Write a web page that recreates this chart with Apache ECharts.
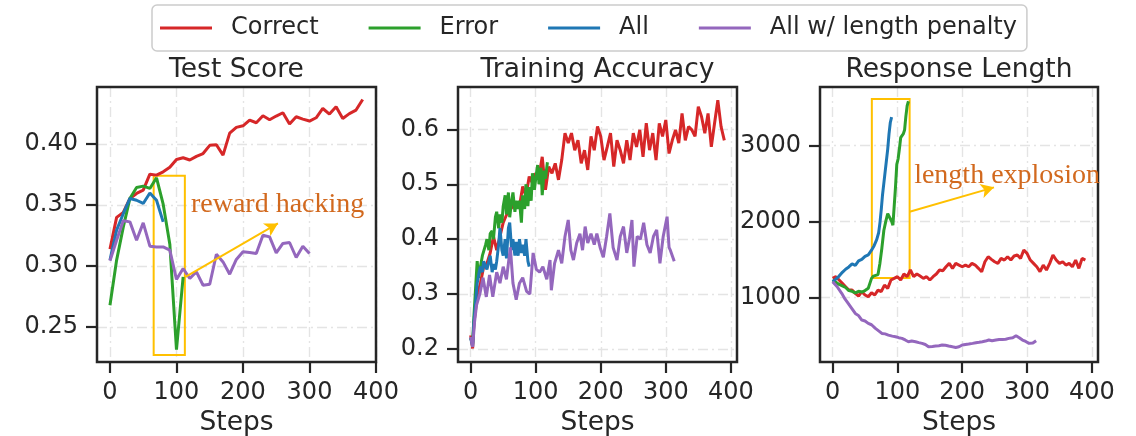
<!DOCTYPE html>
<html>
<head>
<meta charset="utf-8">
<script src="https://cdn.jsdelivr.net/npm/echarts@6/dist/echarts.min.js"></script>
<style>html,body{margin:0;padding:0;background:#fff}#c{width:1136px;height:436px}</style>
</head>
<body>
<div id="c"></div>
<script>
// ---------- data ----------
const seriesNames = ['Correct', 'Error', 'All', 'All w/ length penalty'];
const panelTitles = ['Test Score', 'Training Accuracy', 'Response Length'];
const xTicks = [0, 100, 200, 300, 400];
const testTicks = [0.25, 0.30, 0.35, 0.40];
const accTicks = [0.2, 0.3, 0.4, 0.5, 0.6];
const lenTicks = [1000, 2000, 3000];

// Test Score
const testCorrectSteps = [0,10,20,30,40,50,60,70,80,90,100,110,120,130,140,150,160,170,180,190,200,210,220,230,240,250,260,270,280,290,300,310,320,330,340,350,360,370,380];
const testCorrect = [0.314,0.340,0.344,0.3555,0.3596,0.3623,0.3754,0.3746,0.3773,0.381,0.3874,0.3888,0.387,0.390,0.3923,0.399,0.3995,0.391,0.409,0.4137,0.415,0.4197,0.4175,0.4232,0.420,0.423,0.4257,0.4164,0.4224,0.4205,0.4189,0.4216,0.4292,0.4246,0.4306,0.421,0.425,0.4279,0.4366];
const testErrorSteps = [0,10,20,30,40,50,60,70,80,90,100,110];
const testError = [0.268,0.305,0.332,0.3555,0.3645,0.3656,0.3637,0.3724,0.3508,0.318,0.2317,0.2913];
const testAllSteps = [0,10,20,30,40,50,60,70,80];
const testAll = [0.305,0.3295,0.343,0.3555,0.354,0.3514,0.360,0.354,0.3363];
const testPenaltySteps = [0,10,20,30,40,50,60,70,80,90,100,110,120,130,140,150,160,170,180,190,200,210,220,230,240,250,260,270,280,290,300];
const testPenalty = [0.3044,0.3213,0.3372,0.3363,0.3213,0.3355,0.3164,0.3158,0.3158,0.3131,0.2891,0.2981,0.2899,0.2954,0.2844,0.2852,0.3098,0.3035,0.2934,0.3055,0.3118,0.3112,0.3104,0.3254,0.324,0.3109,0.3186,0.3194,0.3071,0.3164,0.3104];

// Training Accuracy
const accCorrectSteps = [0,3,5,10,15,20,25,30,35,40,45,50,55,60,65,70,75,80,85,90,95,100,105,110,115,120,125,130,135,140,145,150,155,160,165,170,175,180,185,190,195,200,205,210,215,220,225,230,235,240,245,250,255,260,265,270,275,280,285,290,295,300,305,310,315,320,325,330,335,340,345,350,355,360,365,370,375,380,385,390];
const accCorrect = [0.225,0.201,0.247,0.296,0.32,0.35,0.356,0.375,0.405,0.38,0.405,0.43,0.444,0.453,0.46,0.466,0.46,0.496,0.478,0.514,0.502,0.52,0.514,0.55,0.49,0.532,0.52,0.538,0.508,0.544,0.593,0.575,0.593,0.562,0.58,0.538,0.562,0.526,0.587,0.562,0.605,0.587,0.544,0.568,0.593,0.532,0.58,0.562,0.538,0.58,0.544,0.593,0.568,0.599,0.55,0.611,0.562,0.593,0.544,0.611,0.587,0.617,0.556,0.58,0.599,0.575,0.629,0.58,0.605,0.599,0.587,0.641,0.623,0.593,0.629,0.568,0.611,0.653,0.605,0.58];
const accErrorSteps = [0,3,5,8,10,12,15,18,20,23,25,28,30,33,35,38,40,43,45,48,50,53,55,58,60,63,65,68,70,73,75,78,80,83,85,88,90,93,95,98,100,103,105,108,110,113,115,118];
const accError = [0.22,0.21,0.26,0.32,0.36,0.33,0.35,0.37,0.37,0.39,0.40,0.38,0.41,0.415,0.40,0.44,0.45,0.42,0.445,0.43,0.46,0.48,0.445,0.485,0.44,0.47,0.485,0.45,0.47,0.455,0.47,0.43,0.48,0.455,0.50,0.46,0.495,0.47,0.52,0.49,0.51,0.535,0.50,0.53,0.48,0.525,0.51,0.54];
const accAllSteps = [0,3,5,8,10,13,15,18,20,23,25,28,30,33,35,38,40,43,45,48,50,53,55,58,60,63,65,68,70,73,75,78,80,83,85,88,90];
const accAll = [0.22,0.205,0.25,0.29,0.32,0.34,0.35,0.34,0.36,0.35,0.345,0.36,0.37,0.34,0.355,0.345,0.36,0.39,0.42,0.38,0.37,0.40,0.365,0.42,0.43,0.38,0.40,0.37,0.395,0.37,0.40,0.375,0.39,0.37,0.40,0.36,0.35];
const accPenaltySteps = [0,3,6,9,14,19,24,29,34,40,45,50,55,61,65,70,75,80,86,91,96,101,106,111,117,122,124,129,135,140,145,150,154,158,163,168,172,176,180,185,190,194,199,204,209,214,219,225,230,235,240,244,248,251,256,261,266,271,276,281,286,291,296,302,305,307,310,313];
const accPenalty = [0.222,0.204,0.25,0.28,0.30,0.33,0.295,0.335,0.295,0.34,0.32,0.35,0.327,0.385,0.32,0.29,0.32,0.33,0.305,0.30,0.375,0.345,0.34,0.35,0.327,0.362,0.307,0.356,0.38,0.356,0.405,0.435,0.38,0.362,0.393,0.41,0.38,0.423,0.393,0.41,0.39,0.41,0.385,0.367,0.405,0.447,0.385,0.362,0.405,0.423,0.375,0.40,0.435,0.35,0.405,0.40,0.43,0.39,0.375,0.405,0.417,0.356,0.405,0.441,0.385,0.38,0.38,0.36];

// Response Length
const lenCorrectSteps = [0,5,10,15,20,25,30,35,40,45,50,55,60,65,70,75,80,85,90,95,100,105,110,115,120,125,130,135,140,145,150,155,160,165,170,175,180,185,190,195,200,205,210,215,220,225,230,235,240,245,250,255,260,265,270,275,280,285,290,295,300,305,310,315,320,325,330,335,340,345,350,355,360,365,370,375,380,385,390];
const lenCorrect = [1250,1272,1228,1184,1140,1096,1096,1053,1018,1075,1031,1009,1061,1031,1096,1075,1162,1118,1228,1250,1272,1228,1307,1272,1360,1272,1307,1280,1250,1272,1228,1272,1307,1360,1351,1403,1447,1382,1447,1425,1403,1425,1403,1447,1425,1382,1338,1469,1535,1500,1469,1447,1513,1491,1535,1491,1544,1557,1513,1623,1579,1491,1447,1403,1338,1425,1360,1447,1557,1491,1447,1469,1425,1447,1403,1491,1382,1513,1491];
const lenErrorSteps = [0,5,10,15,20,25,30,35,40,45,50,55,60,63,66,70,73,76,79,82,85,88,91,93,95,97,99,101,103,105,107,109,111,113,115,117];
const lenError = [1230,1200,1170,1150,1130,1090,1080,1060,1080,1070,1090,1120,1250,1280,1270,1300,1450,1650,1880,2000,2100,2050,2000,1950,2200,2450,2750,2820,2950,3100,3080,3150,3200,3380,3520,3580];
const lenAllSteps = [0,5,10,15,20,25,30,35,40,45,50,55,60,64,68,71,73,75,77,79,81,83,85,87,89,91];
const lenAll = [1210,1240,1280,1330,1370,1400,1440,1420,1480,1500,1540,1560,1620,1680,1760,1850,1980,2150,2350,2500,2650,2800,2950,3150,3300,3370];
const lenPenaltySteps = [0,7,14,19,24,30,35,40,45,50,55,60,66,71,76,81,86,92,97,102,107,112,117,122,128,133,138,143,148,154,159,164,169,174,179,185,190,195,200,205,210,216,221,226,231,236,241,246,252,257,262,267,272,278,283,288,293,298,303,309,314];
const lenPenalty = [1206,1140,1053,980,921,850,789,760,702,690,658,640,592,560,526,520,504,490,482,470,461,440,417,425,417,405,395,380,351,355,360,365,373,370,360,350,342,350,373,380,386,395,404,410,417,425,439,430,439,445,447,450,461,470,496,470,439,420,395,400,430];

// annotations (data coordinates)
const hackBox = [[65.7, 0.374], [112.6, 0.2273]];
const hackArrow = [[113.6, 0.2913], [252.5, 0.335]];
const hackText = [121, 0.3508];
const explBox = [[60.5, 3609], [118.8, 1254]];
const explArrow = [[118.8, 2126], [249, 2447]];
const explText = [125, 2605];

// ---------- chart ----------
const colors = ['#d62728', '#2ca02c', '#1f77b4', '#9467bd'];
const ink = '#262626';
const annoColor = '#FFC000';
const textAnno = '#D2691E';
const zip = (xs, ys) => xs.map((x, i) => [x, ys[i]]);

const grids = [
  {left: 97, top: 87, width: 279, height: 275},
  {left: 458, top: 87, width: 279, height: 275},
  {left: 820, top: 87, width: 278, height: 275}
].map(g => Object.assign(g, {show: true, z: 3, outerBoundsMode: 'none', containLabel: false,
  borderColor: ink, borderWidth: 2.5, backgroundColor: 'rgba(0,0,0,0)'}));

const xRanges = [[-19.5, 400], [-19.5, 409.5], [-19.5, 409.5]];
const yRanges = [[0.2215, 0.4468], [0.1765, 0.677], [150, 3767]];
const yTicksAll = [testTicks, accTicks, lenTicks];
const yFmt = [v => v.toFixed(2), v => v.toFixed(1), v => String(v)];

const splitStyle = {show: true, lineStyle: {color: '#e4e4e4', width: 1.4, type: [10, 4, 2, 4]}};
const font = 'DejaVu Sans';

const xAxes = [0, 1, 2].map(i => ({
  type: 'value', gridIndex: i, min: xRanges[i][0], max: xRanges[i][1],
  name: 'Steps', nameLocation: 'middle', nameGap: 48,
  nameTextStyle: {fontSize: 26.5, color: ink, fontFamily: font},
  axisLine: {show: false, onZero: false},
  axisTick: {show: true, customValues: xTicks, length: 11, lineStyle: {color: ink, width: 2.2}},
  axisLabel: {customValues: xTicks, fontSize: 24, color: ink, fontFamily: font, margin: 19},
  splitLine: splitStyle
}));
const yAxes = [0, 1, 2].map(i => ({
  type: 'value', gridIndex: i, min: yRanges[i][0], max: yRanges[i][1],
  axisLine: {show: false, onZero: false},
  axisTick: {show: true, customValues: yTicksAll[i], length: 11, lineStyle: {color: ink, width: 2.2}},
  axisLabel: {customValues: yTicksAll[i], formatter: yFmt[i], fontSize: 24, color: ink, fontFamily: font, margin: 19},
  splitLine: splitStyle
}));

const panelData = [
  [zip(testCorrectSteps, testCorrect), zip(testErrorSteps, testError), zip(testAllSteps, testAll), zip(testPenaltySteps, testPenalty)],
  [zip(accCorrectSteps, accCorrect), zip(accErrorSteps, accError), zip(accAllSteps, accAll), zip(accPenaltySteps, accPenalty)],
  [zip(lenCorrectSteps, lenCorrect), zip(lenErrorSteps, lenError), zip(lenAllSteps, lenAll), zip(lenPenaltySteps, lenPenalty)]
];

function annotations(box, arrow, textPos, text) {
  return {
    markArea: {
      silent: true,
      itemStyle: {color: 'rgba(0,0,0,0)', borderColor: annoColor, borderWidth: 2},
      data: [[{coord: box[0]}, {coord: box[1]}]]
    },
    markLine: {
      silent: true, symbol: ['none', 'arrow'], symbolSize: [11, 13],
      label: {show: false},
      lineStyle: {color: annoColor, width: 2, type: 'solid'},
      data: [[{coord: arrow[0]}, {coord: arrow[1]}]]
    },
    markPoint: {
      silent: true, symbol: 'circle', symbolSize: 1,
      itemStyle: {color: 'rgba(0,0,0,0)'},
      label: {show: true, position: 'right', distance: 0, formatter: text, color: textAnno, fontSize: 28, fontFamily: 'Liberation Serif'},
      data: [{coord: textPos}]
    }
  };
}

const series = [];
for (let p = 0; p < 3; p++) {
  for (let s = 0; s < 4; s++) {
    const ser = {
      name: seriesNames[s], type: 'line', xAxisIndex: p, yAxisIndex: p,
      data: panelData[p][s], showSymbol: false, symbol: 'none',
      color: colors[s], lineStyle: {width: 3, color: colors[s]},
      emphasis: {disabled: true}
    };
    if (p === 0 && s === 1) Object.assign(ser, annotations(hackBox, hackArrow, hackText, 'reward hacking'));
    if (p === 2 && s === 1) Object.assign(ser, annotations(explBox, explArrow, explText, 'length explosion'));
    series.push(ser);
  }
}

const centers = [97 + 279 / 2, 458 + 279 / 2, 820 + 278 / 2];
const chart = echarts.init(document.getElementById('c'), null, {renderer: 'canvas'});
chart.setOption({
  animation: false,
  backgroundColor: '#ffffff',
  title: panelTitles.map((t, i) => ({
    text: t, left: centers[i], top: 57, textAlign: 'center', padding: 0,
    textStyle: {fontSize: 26.5, fontWeight: 'normal', color: ink, fontFamily: font}
  })),
  legend: {
    data: seriesNames, left: 152, top: 5, orient: 'horizontal',
    icon: 'rect', itemWidth: 52, itemHeight: 3, itemGap: 50,
    padding: [11, 10, 11, 8], borderColor: '#cccccc', borderWidth: 1.5, borderRadius: 5,
    textStyle: {fontSize: 24, color: ink, fontFamily: font, padding: [0, 0, 0, 14]}
  },
  grid: grids,
  xAxis: xAxes,
  yAxis: yAxes,
  series: series
});
</script>
</body>
</html>
